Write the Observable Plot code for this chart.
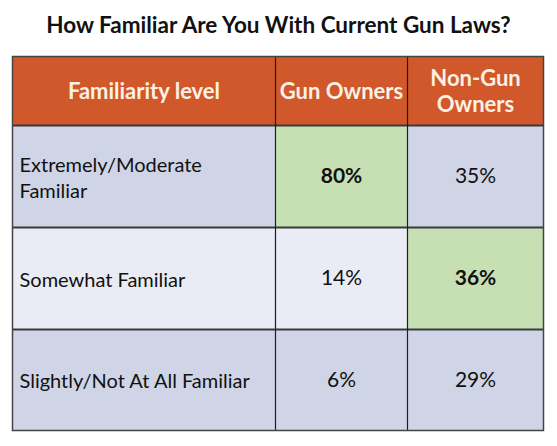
<!DOCTYPE html>
<html><head><meta charset="utf-8">
<script src="https://cdn.jsdelivr.net/npm/d3@7"></script>
<script src="https://cdn.jsdelivr.net/npm/@observablehq/plot@0.6"></script>
<style>
body{margin:0;background:#fff;font-family:Lato,sans-serif;}
#title{height:50px;line-height:50px;text-align:center;font-weight:bold;font-size:22.5px;color:#111;}
#chart svg{display:block;}
</style></head><body>
<div id="title">How Familiar Are You With Current Gun Laws?</div>
<div id="chart"></div>
<script>
// data
const columns = ["Familiarity level", "Gun Owners", "Non-Gun\nOwners"];
const categories = ["Extremely/Moderate\nFamiliar", "Somewhat Familiar", "Slightly/Not At All Familiar"];
const gunOwners = [80, 14, 6];
const nonGunOwners = [35, 36, 29];

// layout (table units)
const colEdges = [0, 263, 395, 531];
const rowEdges = [0, 69, 171, 273, 374];
const bandFill = ["#CFD5E6", "#E9EBF5", "#CFD5E6"];
const highlightFill = "#C6E0B4";
const headerFill = "#D0582B";

const series = [gunOwners, nonGunOwners];
const maxes = series.map(s => d3.max(s));
const cells = [];
columns.forEach((c, j) => cells.push({x1: colEdges[j], x2: colEdges[j + 1], y1: rowEdges[0], y2: rowEdges[1], fill: headerFill, text: c, kind: "header"}));
categories.forEach((cat, i) => {
  cells.push({x1: colEdges[0], x2: colEdges[1], y1: rowEdges[i + 1], y2: rowEdges[i + 2], fill: bandFill[i], text: cat, kind: "label"});
  series.forEach((s, k) => {
    const v = s[i];
    const hi = v === maxes[k];
    cells.push({x1: colEdges[k + 1], x2: colEdges[k + 2], y1: rowEdges[i + 1], y2: rowEdges[i + 2], fill: hi ? highlightFill : bandFill[i], text: v + "%", kind: hi ? "bold" : "value"});
  });
});
const mid = d => (d.y1 + d.y2) / 2;

const plot = Plot.plot({
  width: 557, height: 396,
  marginLeft: 12, marginRight: 14, marginTop: 6, marginBottom: 16,
  x: {domain: [0, 531], axis: null},
  y: {domain: [0, 374], reverse: true, axis: null},
  color: {type: "identity"},
  style: {fontFamily: "Lato, sans-serif", background: "transparent"},
  marks: [
    Plot.rect(cells, {x1: "x1", x2: "x2", y1: "y1", y2: "y2", fill: "fill"}),
    Plot.ruleY(rowEdges.slice(1, -1), {stroke: "#3a3a3a", strokeWidth: 1.8}),
    Plot.ruleX(colEdges.slice(1, -1), {y1: 0, y2: 374, stroke: "#1e1e1e", strokeWidth: 1.2}),
    Plot.frame({stroke: "#444", strokeWidth: 1.5}),
    Plot.text(cells.filter(d => d.kind === "header"), {x: d => (d.x1 + d.x2) / 2, y: mid, text: "text", fill: "#FCF0E4", fontWeight: "bold", fontSize: 22, lineHeight: 1.18}),
    Plot.text(cells.filter(d => d.kind === "label"), {x: d => d.x1 + 7, y: mid, text: "text", textAnchor: "start", fill: "#111", fontSize: 20, lineHeight: 1.3}),
    Plot.text(cells.filter(d => d.kind === "value"), {x: d => (d.x1 + d.x2) / 2, y: mid, text: "text", fill: "#111", fontSize: 21}),
    Plot.text(cells.filter(d => d.kind === "bold"), {x: d => (d.x1 + d.x2) / 2, y: mid, text: "text", fill: "#111", fontSize: 21, fontWeight: "bold"})
  ]
});
document.getElementById("chart").appendChild(plot);
</script>
</body></html>
